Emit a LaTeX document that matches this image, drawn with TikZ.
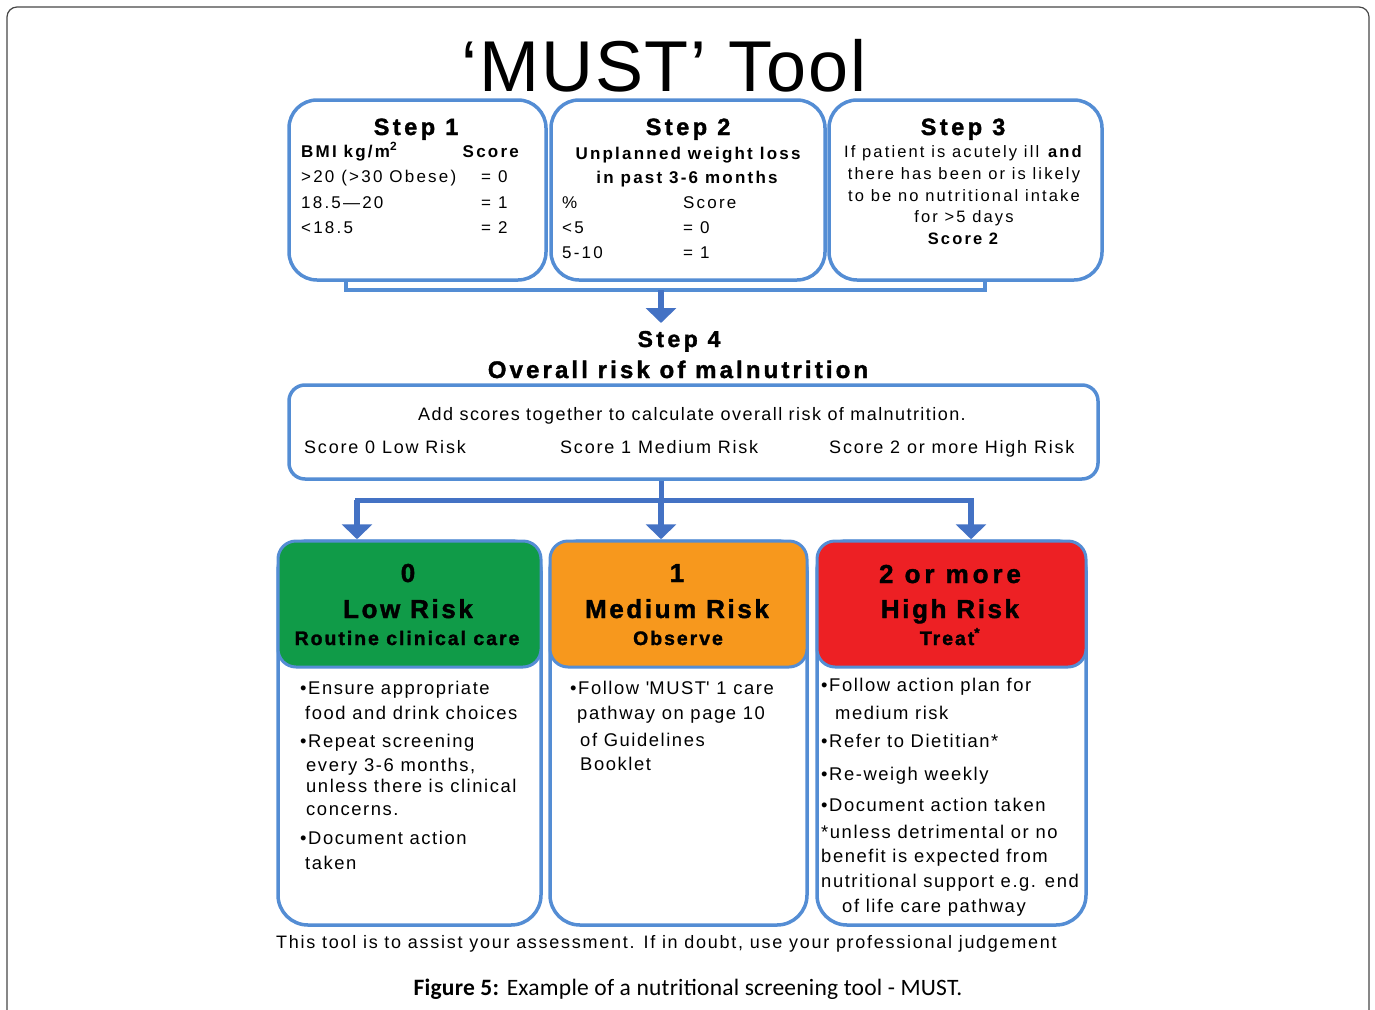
\documentclass[tikz,border=0pt]{standalone}
\usepackage{fontspec}
\setmainfont{Liberation Sans}
\newfontfamily\lsa[LetterSpace=13]{Liberation Sans}
\newfontfamily\lsb[LetterSpace=8.5]{Liberation Sans}
\newfontfamily\lsc[LetterSpace=10]{Liberation Sans}
\newfontfamily\lsd[LetterSpace=8]{Liberation Sans}
\newfontfamily\lsh[LetterSpace=15, BoldFeatures={FakeBold=1.5}]{Liberation Sans}
\newfontfamily\lsk[LetterSpace=10, BoldFeatures={FakeBold=1.5}]{Liberation Sans}
\newfontfamily\lso[LetterSpace=13, BoldFeatures={FakeBold=1.5}]{Liberation Sans}
\newfontfamily\lsm[LetterSpace=15, BoldFeatures={FakeBold=1.5}]{Liberation Sans}
\newfontfamily\lsf[LetterSpace=9.6]{Liberation Sans}
\newfontfamily\capf[LetterSpace=1]{Carlito}
\usetikzlibrary{arrows.meta}
\definecolor{boxblue}{RGB}{84,141,212}
\definecolor{arrowblue}{RGB}{68,114,196}
\definecolor{lowgreen}{RGB}{16,155,72}
\definecolor{medorange}{RGB}{247,152,29}
\definecolor{highred}{RGB}{237,32,36}
\definecolor{framegray}{RGB}{70,70,70}
\newcommand\fsA{\lsa\fontsize{17}{20}\selectfont}
\newcommand\fsT{\lsa\fontsize{16.5}{20}\selectfont}
\newcommand\fsH{\lsh\bfseries\fontsize{23.5}{28}\selectfont}
\newcommand\fsB{\lsb\fontsize{18.4}{22}\selectfont}
\newcommand\fsC{\lsc\fontsize{18}{22}\selectfont}
\newcommand\fsR{\lsk\bfseries\fontsize{26}{30}\selectfont}
\newcommand\fsRs{\lsk\bfseries\fontsize{19.5}{23}\selectfont}
\tikzset{
  stepbox/.style={draw=boxblue, line width=3.5pt, rounded corners=28pt, fill=white, inner sep=0pt},
  riskbody/.style={draw=boxblue, line width=3.5pt, rounded corners=30pt, fill=white, inner sep=0pt, minimum height=384pt},
  riskhead/.style={draw=boxblue, line width=3pt, rounded corners=18pt, inner sep=0pt, minimum height=126pt},
  conn/.style={draw=boxblue, line width=3.5pt},
  arrline/.style={draw=arrowblue, line width=5pt},
  arr/.style={draw=arrowblue, line width=5.5pt, -{Triangle[width=30pt,length=15pt]}},
  tl/.style={anchor=base west, inner sep=0pt},
  tc/.style={anchor=base, inner sep=0pt},
  tr/.style={anchor=base east, inner sep=0pt},
}
\begin{document}
\begin{tikzpicture}[x=1pt,y=-1pt]
\useasboundingbox (0,0) rectangle (1375,1009);
\begin{scope}
\clip (0,0) rectangle (1375,1009);
\draw[framegray, line width=1.2pt, rounded corners=10pt] (7,1040) -- (7,7) -- (1369,7) -- (1369,1040);
\end{scope}

% title
\node[tc] (title) at (664,91) {\fontsize{72}{80}\selectfont\addfontfeature{LetterSpace=2.5}‘MUST’ Tool};

% step boxes
\node[stepbox, minimum width=257pt, minimum height=180pt] (s1) at (417.5,190) {};
\node[stepbox, minimum width=274pt, minimum height=180pt] (s2) at (688,190) {};
\node[stepbox, minimum width=273pt, minimum height=180pt] (s3) at (965.5,190) {};

% connectors from steps
\coordinate (c1) at (346,290);
\coordinate (c3) at (985,290);
\coordinate (j) at (661,290);
\coordinate (a4) at (661,323);
\draw[conn] (c1 |- s1.south) -- (c1) -- (c3) -- (c3 |- s3.south);
\draw[arr] (j) -- (a4);

% step 1 text
\node[tc] (h1) at (416,135) {\fsH Step 1};
\node[tl] (b1) at (301,157) {\fsA\bfseries BMI kg/m\textsuperscript{2}};
\node[tr] (b1s) at (519,157) {\fsA\bfseries Score};
\node[tl] (b2) at (301,182) {\fsA >20 (>30 Obese)};
\node[tl] (b2s) at (481,182) {\fsA = 0};
\node[tl] (b3) at (301,208) {\fsA 18.5—20};
\node[tl] (b3s) at (481,208) {\fsA = 1};
\node[tl] (b4) at (301,233) {\fsA <18.5};
\node[tl] (b4s) at (481,233) {\fsA = 2};

% step 2 text
\node[tc] (h2) at (688,135) {\fsH Step 2};
\node[tc] (w1) at (688,159) {\fsA\bfseries Unplanned weight loss};
\node[tc] (w2) at (687,183) {\fsA\bfseries in past 3-6 months};
\node[tl] (w3) at (562,208) {\fsA \%};
\node[tl] (w3s) at (683,208) {\fsA Score};
\node[tl] (w4) at (562,233) {\fsA <5};
\node[tl] (w4s) at (683,233) {\fsA = 0};
\node[tl] (w5) at (562,258) {\fsA 5-10};
\node[tl] (w5s) at (683,258) {\fsA = 1};

% step 3 text
\node[tc] (h3) at (963,135) {\fsH Step 3};
\node[tc] (i1) at (964,157) {\fsT If patient is acutely ill \textbf{and}};
\node[tc] (i2) at (964,179) {\fsT there has been or is likely};
\node[tc] (i3) at (964,201) {\fsT to be no nutritional intake};
\node[tc] (i4) at (964,222) {\fsT for >5 days};
\node[tc] (i5) at (963,244) {\fsT\bfseries Score 2};

% step 4
\node[tc] (h4) at (679,347) {\lsh\bfseries\fontsize{23}{28}\selectfont Step 4};
\node[tc] (h4b) at (678,378) {\lso\bfseries\fontsize{24}{28}\selectfont Overall risk of malnutrition};
\node[stepbox, rounded corners=16pt, minimum width=809pt, minimum height=94pt] (s4) at (693.5,432) {};
\node[tc] (o1) at (692,420) {\lsd\fontsize{18}{22}\selectfont Add scores together to calculate overall risk of malnutrition.};
\node[tl] (o2) at (304,453) {\fsC Score 0 Low Risk};
\node[tl] (o3) at (560,453) {\fsC Score 1 Medium Risk};
\node[tl] (o4) at (829,453) {\fsC Score 2 or more High Risk};

% risk boxes
\node[riskbody, minimum width=263pt] (low) at (409.5,733) {};
\node[riskbody, minimum width=257pt] (med) at (678.5,733) {};
\node[riskbody, minimum width=269pt] (high) at (951.5,733) {};
\node[riskhead, fill=lowgreen, minimum width=263pt] (lowh) at (409.5,604) {};
\node[riskhead, fill=medorange, minimum width=257pt] (medh) at (678.5,604) {};
\node[riskhead, fill=highred, minimum width=269pt] (highh) at (951.5,604) {};

% connectors to risk boxes
\coordinate (k) at (661,500);
\coordinate (kl) at (357,500);
\coordinate (kr) at (971,500);
\draw[arrline] (k |- s4.south) -- (k);
\draw[arrline, line cap=rect] (kl) -- (kr);
\draw[arr] (kl) -- (kl |- low.north);
\draw[arr] (k) -- (k |- med.north);
\draw[arr] (kr) -- (kr |- high.north);

% headers
\node[tc] (l1) at (408,582) {\fsR 0};
\node[tc] (l2) at (408,618) {\fsR Low Risk};
\node[tc] (l3) at (407,645) {\fsRs Routine clinical care};
\node[tc] (m1) at (677,582) {\fsR 1};
\node[tc] (m2) at (677,618) {\fsR Medium Risk};
\node[tc] (m3) at (678,645) {\fsRs Observe};
\node[tc] (r1) at (950,583) {\lsm\bfseries\fontsize{26}{30}\selectfont 2 or more};
\node[tc] (r2) at (950,618) {\fsR High Risk};
\node[tc] (r3) at (950,645) {\fsRs Treat\textsuperscript{*}};

% low body
\node[tl] (lb1) at (300,694) {\fsB •Ensure appropriate};
\node[tl] (lb2) at (305,719) {\fsB food and drink choices};
\node[tl] (lb3) at (300,747) {\fsB •Repeat screening};
\node[tl] (lb4) at (306,771) {\fsB every 3-6 months,};
\node[tl] (lb5) at (306,792) {\fsB unless there is clinical};
\node[tl] (lb6) at (306,815) {\fsB concerns.};
\node[tl] (lb7) at (300,844) {\fsB •Document action};
\node[tl] (lb8) at (305,869) {\fsB taken};

% medium body
\node[tl] (mb1) at (570,694) {\fsB •Follow \textquotesingle MUST\textquotesingle\ 1 care};
\node[tl] (mb2) at (577,719) {\fsB pathway on page 10};
\node[tl] (mb3) at (580,746) {\fsB of Guidelines};
\node[tl] (mb4) at (580,770) {\fsB Booklet};

% high body
\node[tl] (hb1) at (821,691) {\fsB •Follow action plan for};
\node[tl] (hb2) at (835,719) {\fsB medium risk};
\node[tl] (hb3) at (821,747) {\fsB •Refer to Dietitian*};
\node[tl] (hb4) at (821,780) {\fsB •Re-weigh weekly};
\node[tl] (hb5) at (821,811) {\fsB •Document action taken};
\node[tl] (hb6) at (821,838) {\fsB *unless detrimental or no};
\node[tl] (hb7) at (821,862) {\fsB benefit is expected from};
\node[tl] (hb8) at (821,887) {\fsB nutritional support e.g. end};
\node[tl] (hb9) at (842,912) {\fsB of life care pathway};

% footer and caption
\node[tl] (foot) at (276,948) {\lsf\fontsize{18}{22}\selectfont This tool is to assist your assessment. If in doubt, use your professional judgement};
\node[tc] (cap) at (688,995) {\capf\fontsize{23.5}{27}\selectfont\textbf{Figure 5:} Example of a nutritional screening tool - MUST.};
\end{tikzpicture}
\end{document}
